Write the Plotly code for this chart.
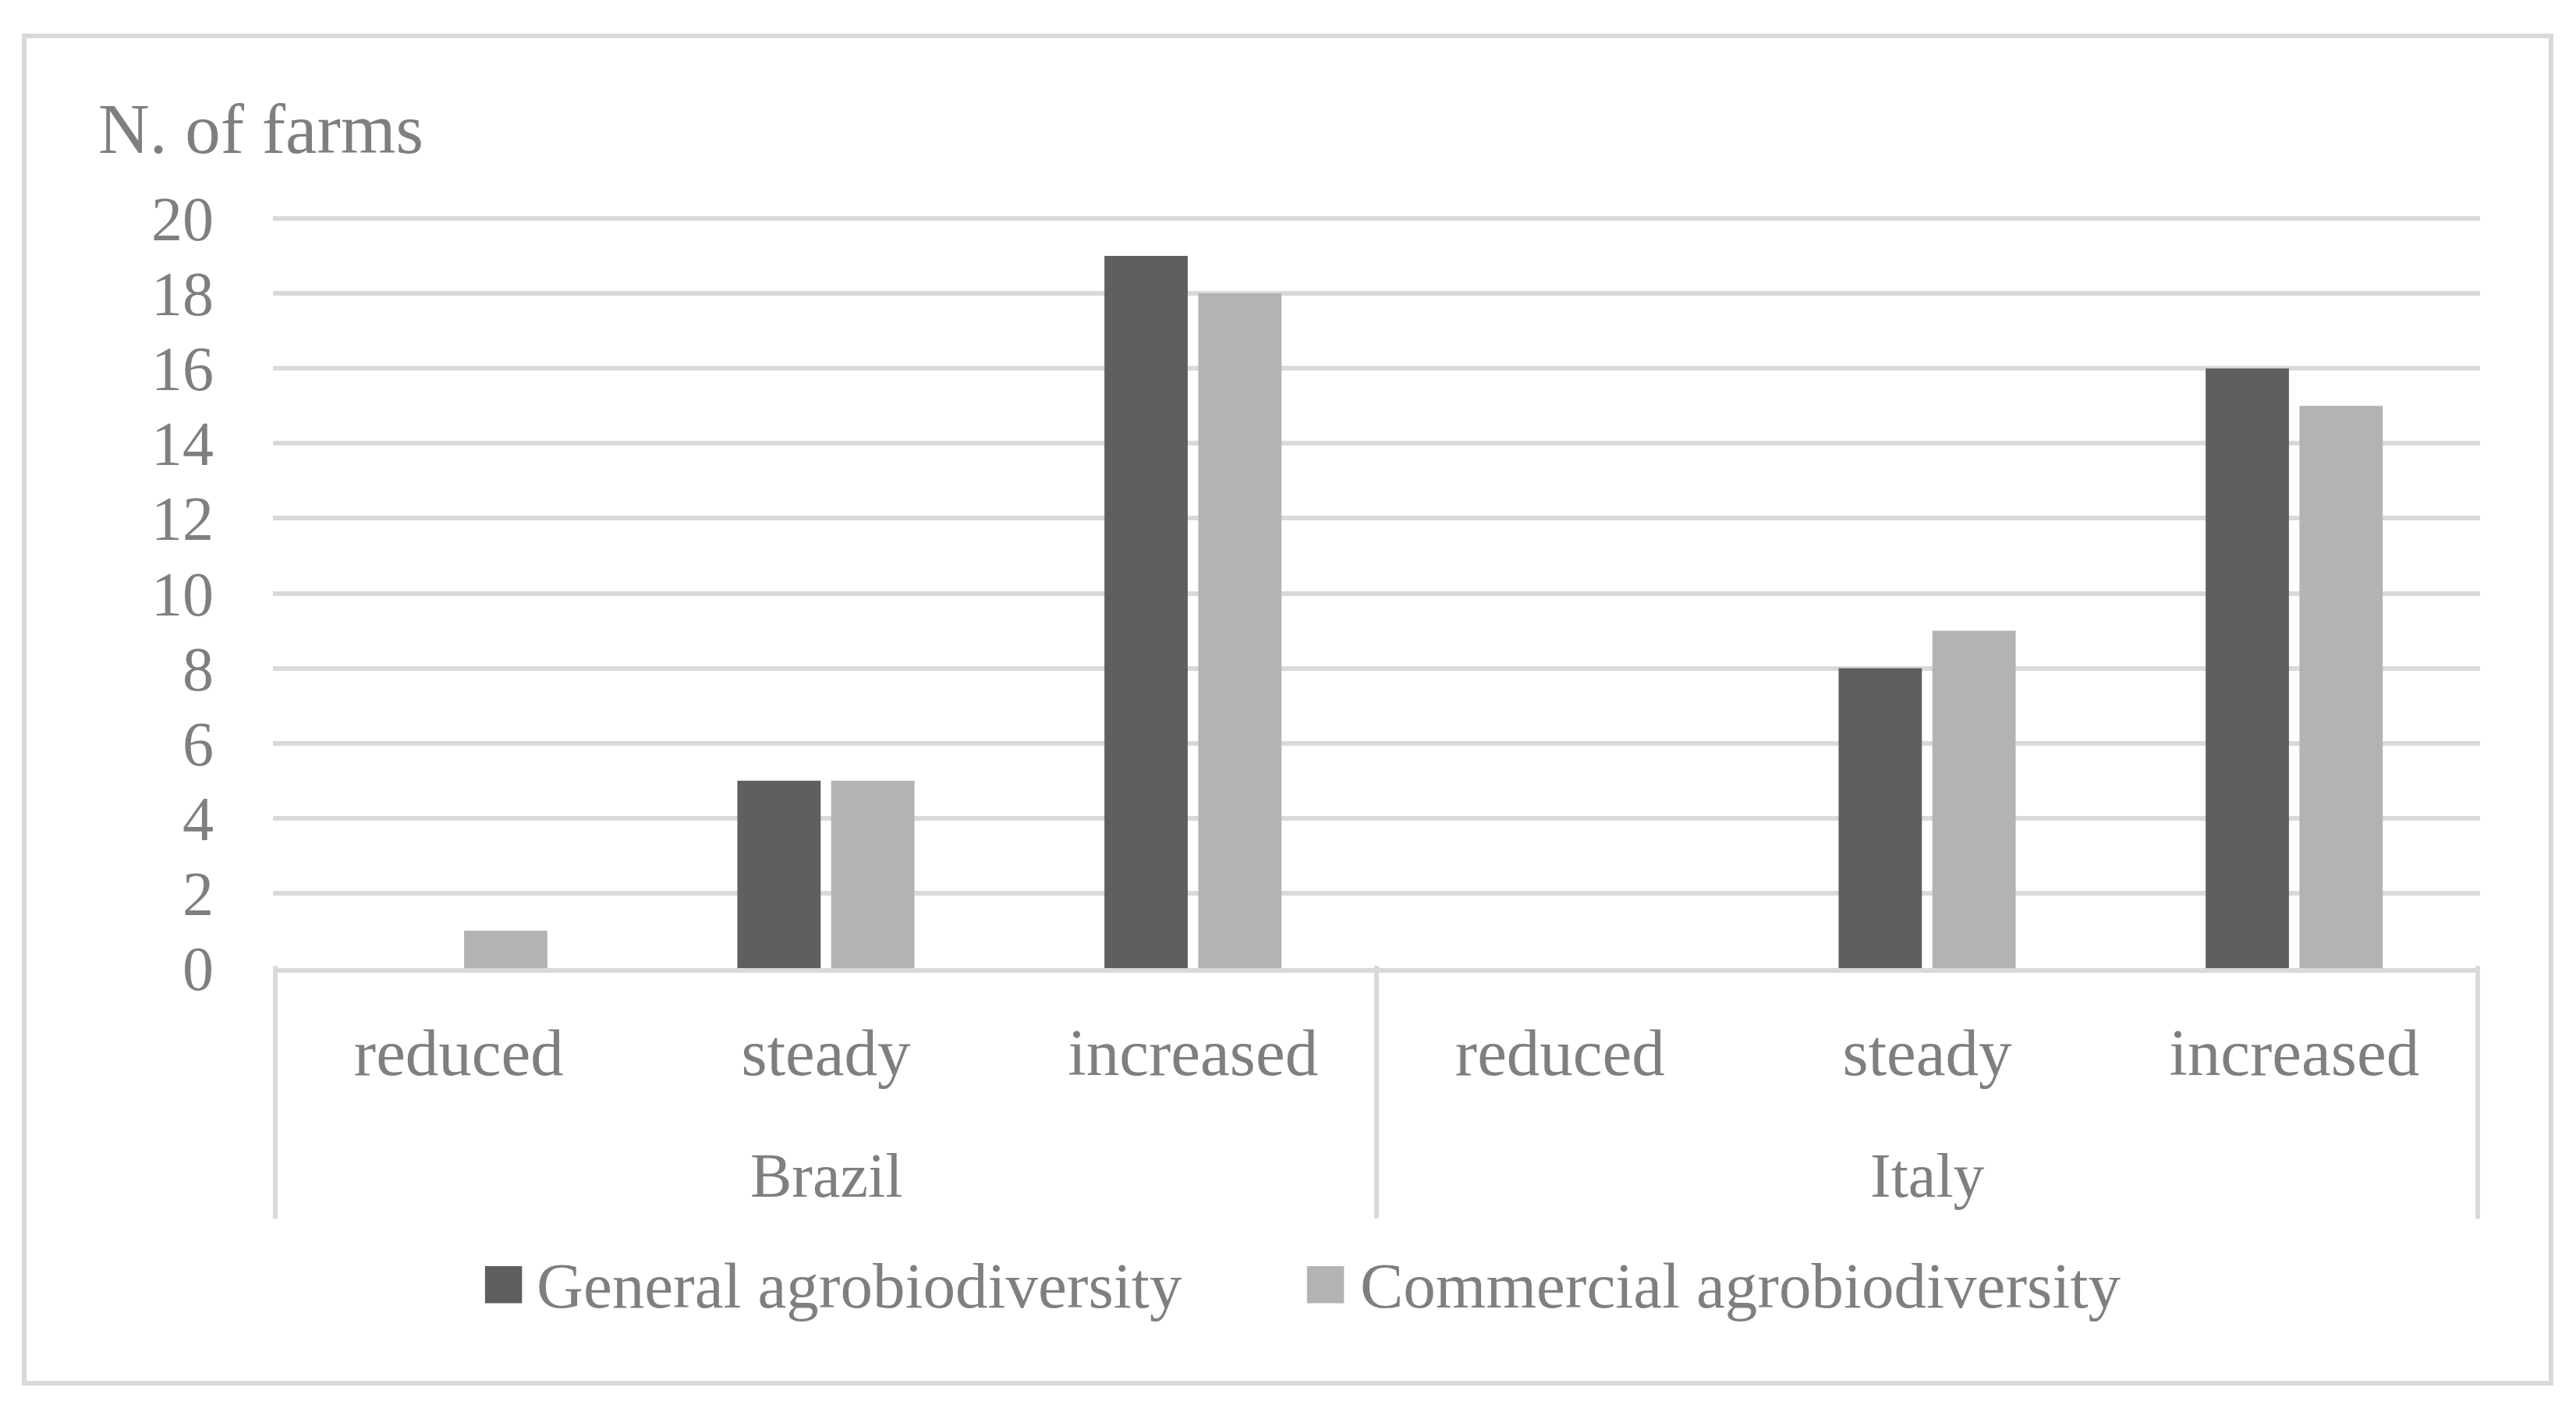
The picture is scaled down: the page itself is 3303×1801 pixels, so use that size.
import plotly.graph_objects as go

# ---- data ----
countries = ["Brazil", "Brazil", "Brazil", "Italy", "Italy", "Italy"]
levels = ["reduced", "steady", "increased", "reduced", "steady", "increased"]
general = [0, 5, 19, 0, 8, 16]
commercial = [1, 5, 18, 0, 9, 15]
series_names = ["General agrobiodiversity", "Commercial agrobiodiversity"]
country_names = ["Brazil", "Italy"]
y_title = "N. of farms"
y_tick_vals = [0, 2, 4, 6, 8, 10, 12, 14, 16, 18, 20]

# ---- style ----
W, H = 3303, 1801
Y_MAX = 20.5                      # a little headroom so the 20 gridline is drawn
L, R, B = 342, 131, 568
UNIT = 48.05                      # pixels per farm
T = round(H - B - Y_MAX * UNIT)
PW, PH = W - L - R, H - T - B
series_colors = ["#5f5f5f", "#b3b3b3"]
grid = "#d9d9d9"
txt = "#7f7f7f"
FONT = "Liberation Serif"


def px_x(p):
    return (p - L) / PW


def px_y(p):
    return (H - B - p) / PH


cat_keys = [f"{c} {l}" for c, l in zip(countries, levels)]

fig = go.Figure()
for name, vals, col in zip(series_names, [general, commercial], series_colors):
    fig.add_trace(go.Bar(x=cat_keys, y=vals, name=name,
                         marker=dict(color=col, line=dict(width=0)),
                         showlegend=False))

fig.update_layout(
    width=W, height=H,
    margin=dict(l=L, r=R, t=T, b=B, pad=0),
    paper_bgcolor="white", plot_bgcolor="white",
    barmode="group", bargap=0.489, bargroupgap=0.112,
    font=dict(family=FONT, size=80, color=txt),
    showlegend=False,
)
fig.update_xaxes(
    type="category", categoryorder="array", categoryarray=cat_keys,
    tickvals=cat_keys, ticktext=levels,
    showline=True, linecolor=grid, linewidth=6,
    ticks="", showgrid=False, ticklabelstandoff=29,
    tickfont=dict(family=FONT, size=85, color=txt),
)
fig.update_yaxes(
    range=[0, Y_MAX], tickvals=y_tick_vals,
    showgrid=True, gridcolor=grid, gridwidth=6,
    zeroline=False, showline=False, ticks="",
    ticklabelstandoff=75,
    tickfont=dict(family=FONT, size=80, color=txt),
)

annots = [
    dict(text=y_title, xref="paper", yref="paper", x=px_x(116), y=px_y(158),
         xanchor="left", yanchor="middle", showarrow=False,
         font=dict(family=FONT, size=91, color=txt)),
]

# country (outer category) labels and group dividers
n_per = len(levels) // len(country_names)
shapes = []
for gi, cname in enumerate(country_names):
    centre = gi * n_per + (n_per - 1) / 2
    annots.append(dict(text=cname, xref="x", yref="paper", x=centre, y=px_y(1499),
                       xanchor="center", yanchor="middle", showarrow=False,
                       font=dict(family=FONT, size=80, color=txt)))
for k in range(len(country_names) + 1):
    xb = k * n_per - 0.5
    shapes.append(dict(type="line", xref="x", yref="paper", x0=xb, x1=xb,
                       y0=px_y(1554), y1=px_y(1230),
                       line=dict(color=grid, width=6)))

# legend built from squares + text
leg_marker_x = [606, 1660]
leg_text_x = [678, 1734]
for name, col, mx, tx in zip(series_names, series_colors, leg_marker_x, leg_text_x):
    annots.append(dict(text="■", xref="paper", yref="paper", x=px_x(mx), y=px_y(1635),
                       xanchor="left", yanchor="middle", showarrow=False,
                       font=dict(family=FONT, size=98, color=col)))
    annots.append(dict(text=name, xref="paper", yref="paper", x=px_x(tx), y=px_y(1640),
                       xanchor="left", yanchor="middle", showarrow=False,
                       font=dict(family=FONT, size=83, color=txt)))

shapes.append(dict(type="rect", xref="paper", yref="paper",
                   x0=px_x(23), x1=px_x(3263), y0=px_y(1765), y1=px_y(38),
                   line=dict(color=grid, width=6), fillcolor="rgba(0,0,0,0)",
                   layer="below"))
fig.update_layout(annotations=annots, shapes=shapes)

fig.write_html("out.html")
